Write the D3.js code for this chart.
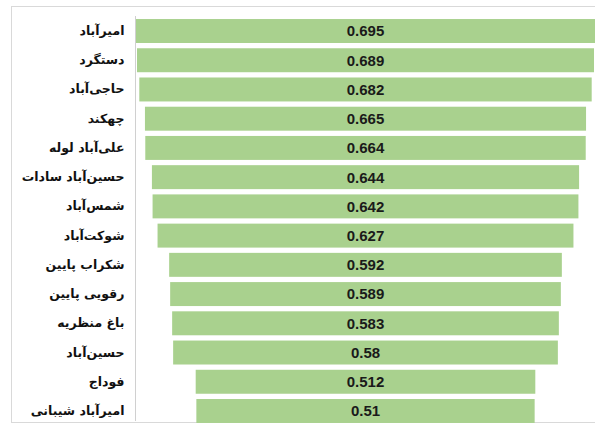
<!DOCTYPE html>
<html>
<head>
<meta charset="utf-8">
<script src="https://cdn.jsdelivr.net/npm/d3@7"></script>
<style>
  body { margin: 0; background: white; }
</style>
</head>
<body>
<div id="chart"></div>
<script>
const villages = ["امیرآباد", "دستگرد", "حاجی‌آباد", "چهکند", "علی‌آباد لوله", "حسین‌آباد سادات", "شمس‌آباد",
  "شوکت‌آباد", "شکراب پایین", "رقویی پایین", "باغ منظریه", "حسین‌آباد", "فوداج", "امیرآباد شیبانی"];
const scores = [0.695, 0.689, 0.682, 0.665, 0.664, 0.644, 0.642, 0.627, 0.592, 0.589, 0.583, 0.58, 0.512, 0.51];

const data = villages.map((name, i) => ({ name, value: scores[i] }));

const width = 595;
const height = 428;
const centerX = 365.5;

const svg = d3.select("#chart")
  .append("svg")
  .attr("width", width)
  .attr("height", height)
  .style("background-color", "white");

// chart border
svg.append("rect")
  .attr("x", 11.5)
  .attr("y", 6.5)
  .attr("width", 600)
  .attr("height", 416)
  .attr("fill", "none")
  .attr("stroke", "#d9d9d9")
  .attr("stroke-width", 1);

const y = d3.scaleBand()
  .domain(data.map(d => d.name))
  .range([16.4, 425.6])
  .paddingInner(0.18)
  .paddingOuter(0.09);

// width of each bar, centred on centerX
const w = d3.scaleLinear()
  .domain([0, d3.max(data, d => d.value)])
  .range([0, 461]);

// bars
svg.selectAll(".bar")
  .data(data)
  .enter()
  .append("rect")
  .attr("class", "bar")
  .attr("x", d => centerX - w(d.value) / 2)
  .attr("y", d => y(d.name))
  .attr("width", d => w(d.value))
  .attr("height", y.bandwidth())
  .attr("fill", "#a9d18e");

// value labels
svg.selectAll(".val")
  .data(data)
  .enter()
  .append("text")
  .attr("class", "val")
  .attr("x", centerX)
  .attr("y", d => y(d.name) + y.bandwidth() / 2)
  .attr("dy", "0.36em")
  .attr("text-anchor", "middle")
  .style("font-family", "'Liberation Sans', Arial, sans-serif")
  .style("font-size", "15px")
  .style("font-weight", "bold")
  .style("fill", "#1a1a1a")
  .text(d => d.value);

// category axis
svg.append("g")
  .attr("transform", "translate(135.5,0)")
  .call(d3.axisLeft(y).tickSize(0).tickPadding(11))
  .call(g => g.select(".domain").attr("stroke", "#d0d0d0").attr("d", "M0,16V421"))
  .selectAll("text")
  .attr("direction", "rtl")
  .attr("text-anchor", "start")
  .style("font-family", "'DejaVu Sans', 'Noto Sans', sans-serif")
  .style("font-size", "12.5px")
  .style("font-weight", "bold")
  .style("fill", "#111");
</script>
</body>
</html>
